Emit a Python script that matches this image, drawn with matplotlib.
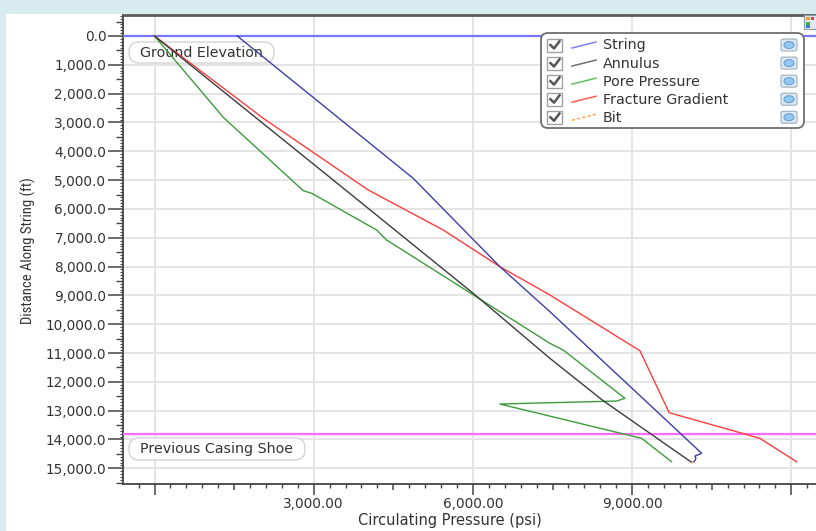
import numpy as np
import matplotlib
matplotlib.use("Agg")
import matplotlib.pyplot as plt
from matplotlib import font_manager
from matplotlib.patches import FancyBboxPatch, Rectangle, Ellipse
from matplotlib.lines import Line2D
from matplotlib.transforms import Affine2D
from matplotlib.ticker import FixedLocator, FuncFormatter, NullFormatter

# ---- data: circulating pressure (psi) against distance along string (ft) ----
string_psi = [1560, 4876, 6509, 7451, 9586, 10311, 10184, 10203, 10170, 10121]
string_ft = [0, 4940, 8005, 9566, 13232, 14480, 14574, 14654, 14772, 14793]

annulus_psi = [0, 3369, 6006, 7451, 8455, 10121]
annulus_ft = [0, 5000, 8930, 11184, 12655, 14793]

pore_psi = [0, 1296, 2803, 2962, 4186, 4374, 7451, 7702, 8864, 8708, 6509, 9179, 9744]
pore_ft = [0, 2822, 5367, 5458, 6732, 7079, 10664, 10896, 12572, 12666, 12770, 13960, 14772]

frac_psi = [0, 2050, 4028, 5441, 6509, 7451, 9147, 9699, 11408, 12099]
frac_ft = [0, 2856, 5344, 6732, 8005, 8987, 10920, 13071, 13960, 14772]

bit_psi = [10121]
bit_ft = [14793]

ground_elevation_ft = 0
casing_shoe_ft = 13810

x_ticks = [0, 3000, 6000, 9000, 12000]
x_labelled = [3000, 6000, 9000]
y_ticks = list(range(0, 15001, 1000))

legend_names = ["String", "Annulus", "Pore Pressure", "Fracture Gradient", "Bit"]

# ---- figure ----
W, H = 816, 531
fig = plt.figure(figsize=(W / 100, H / 100), dpi=100)
fig.patch.set_facecolor("white")
pix = Affine2D().scale(1, -1).translate(0, H)   # pixel coords, origin top-left

band = "#d7ebf1"
fig.add_artist(Rectangle((0, 0), W, 14, transform=pix, facecolor=band,
                         edgecolor="none", zorder=-5))
fig.add_artist(Rectangle((0, 0), 6, H, transform=pix, facecolor=band,
                         edgecolor="none", zorder=-5))

ax_l, ax_r, ax_t, ax_b = 123, 816, 15, 484
ax = fig.add_axes([ax_l / W, 1 - ax_b / H, (ax_r - ax_l) / W, (ax_b - ax_t) / H])

x0_px, px_per_3000 = 154.5, 159.2
y0_px, px_per_1000 = 36.0, 28.82
ax.set_xlim((ax_l - x0_px) / px_per_3000 * 3000, (ax_r - x0_px) / px_per_3000 * 3000)
ax.set_ylim((ax_b - y0_px) / px_per_1000 * 1000, (ax_t - y0_px) / px_per_1000 * 1000)

# reference lines
ax.axhline(ground_elevation_ft, color="#7676ff", lw=1.6, zorder=3)
ax.axhline(casing_shoe_ft, color="#ff6cff", lw=1.6, zorder=3)

# series
ax.plot(frac_psi, frac_ft, color="#ff3c3c", lw=1.0, zorder=4)
ax.plot(pore_psi, pore_ft, color="#3c9c3c", lw=1.0, zorder=4)
ax.plot(annulus_psi, annulus_ft, color="#3c3c3c", lw=1.0, zorder=4)
ax.plot(string_psi, string_ft, color="#3e3ea6", lw=1.0, zorder=4)
ax.plot(bit_psi, bit_ft, "o", color="#ffc080", ms=1.6, mew=0, zorder=5)

# grid, spines, ticks
ax.grid(True, which="major", color="#e4e4e4", lw=1.4)
ax.set_axisbelow(True)
for side in ("left", "bottom", "top"):
    ax.spines[side].set_color("#444444")
ax.spines["left"].set_linewidth(1.3)
ax.spines["bottom"].set_linewidth(1.3)
ax.spines["top"].set_linewidth(2.0)
ax.spines["top"].set_color("#5a5a5a")
ax.spines["right"].set_visible(False)

ax.xaxis.set_major_locator(FixedLocator(x_ticks))
ax.xaxis.set_major_formatter(FuncFormatter(
    lambda v, p: f"{v:,.2f}" if int(round(v)) in x_labelled else ""))
ax.xaxis.set_minor_locator(FixedLocator(
    [v for v in range(-600, 12501, 300) if v % 1500 != 0]))
ax.yaxis.set_major_locator(FixedLocator(y_ticks))
ax.yaxis.set_major_formatter(FuncFormatter(lambda v, p: f"{v:,.1f}"))
ax.yaxis.set_minor_locator(FixedLocator(
    [v for v in range(-700, 15501, 100) if v % 500 != 0]))

ax.tick_params(axis="x", which="major", length=7.6, width=1.1, pad=2,
               color="#444444", labelcolor="#333333", labelsize=9.8)
ax.tick_params(axis="x", which="minor", length=2.6, width=1.0, color="#444444")
ax.tick_params(axis="y", which="major", length=10.5, width=1.1, pad=1.5,
               color="#444444", labelcolor="#333333", labelsize=9.8)
ax.tick_params(axis="y", which="minor", length=2.4, width=0.8, color="#444444")
for lab in ax.get_xticklabels() + ax.get_yticklabels():
    lab.set_family("DejaVu Sans")

# mid-level ticks (every 1500 psi / 500 ft)
secx = ax.secondary_xaxis("bottom")
secx.xaxis.set_major_locator(FixedLocator([v for v in range(1500, 12001, 3000)]))
secx.xaxis.set_major_formatter(NullFormatter())
secx.tick_params(length=4.6, width=1.1, color="#444444")
secx.spines["bottom"].set_visible(False)

secy = ax.secondary_yaxis("left")
secy.yaxis.set_major_locator(FixedLocator([v for v in range(-500, 15501, 1000)]))
secy.yaxis.set_major_formatter(NullFormatter())
secy.tick_params(length=5.4, width=1.0, color="#444444")
secy.spines["left"].set_visible(False)

# axis titles
installed = {f.name for f in font_manager.fontManager.ttflist}
narrow = next((n for n in ["Liberation Sans Narrow", "Roboto Condensed",
                           "Open Sans Condensed"] if n in installed), "Liberation Sans")
fig.text(450 / W, 1 - 521 / H, "Circulating Pressure (psi)", ha="center",
         va="center", fontsize=10.5, family="DejaVu Sans", color="#333333")
fig.text(28 / W, 1 - 251 / H, "Distance Along String (ft)", rotation=90,
         ha="center", va="center", fontsize=10.5, family=narrow, color="#333333")

# marker labels
def tag(x0, y0, w, h, text):
    ax.add_artist(FancyBboxPatch((x0, y0), w, h,
                                 boxstyle="round,pad=0,rounding_size=10",
                                 transform=pix, facecolor="white",
                                 edgecolor="#d4d4d4", lw=1.0, zorder=2,
                                 clip_on=False))
    ax.text(x0 + w / 2, y0 + h / 2 + 0.5, text, transform=pix, ha="center",
            va="center", fontsize=10.3, family="DejaVu Sans", color="#333333",
            zorder=2.5, clip_on=False)

tag(129, 42, 145, 21, "Ground Elevation")
tag(129, 438, 176, 22, "Previous Casing Shoe")

# legend panel
fig.add_artist(FancyBboxPatch((541, 33), 263, 95,
                              boxstyle="round,pad=0,rounding_size=7",
                              transform=pix, facecolor="white",
                              edgecolor="#6e6e6e", lw=1.3, zorder=10))
legend_colors = ["#8080e6", "#6e6e6e", "#62c062", "#ff5a5a", "#ffa550"]
legend_styles = ["-", "-", "-", "-", (0, (2, 1.5))]
for i, (name, col, ls) in enumerate(zip(legend_names, legend_colors, legend_styles)):
    yc = 45 + 18.07 * i
    fig.add_artist(Rectangle((547, yc - 6.5), 15, 13, transform=pix,
                             facecolor="white", edgecolor="#a0a0a0", lw=1.0, zorder=11))
    fig.add_artist(Line2D([550.5, 554, 559.5], [yc, yc + 3.5, yc - 3.8],
                          transform=pix, color="#555555", lw=1.8, zorder=12))
    fig.add_artist(Line2D([572, 596], [yc + 3, yc - 3], transform=pix,
                          color=col, lw=1.1, ls=ls, zorder=12))
    fig.text(603, yc + 0.5, name, transform=pix, ha="left", va="center",
             fontsize=10.3, family="DejaVu Sans", color="#333333", zorder=12)
    fig.add_artist(FancyBboxPatch((781, yc - 6), 16, 12,
                                  boxstyle="round,pad=0,rounding_size=2",
                                  transform=pix, facecolor="#dfe7ef",
                                  edgecolor="#9fb0c0", lw=0.8, zorder=11))
    fig.add_artist(Ellipse((789, yc), 10, 7, transform=pix, facecolor="#93c8f2",
                           edgecolor="#5b9bd6", lw=0.7, zorder=12))

# chart-options button in the corner
fig.add_artist(Rectangle((804, 15), 14, 14, transform=pix, facecolor="#e4e8ee",
                         edgecolor="#8899aa", lw=0.8, zorder=11))
for (bx, by, bc) in [(806, 17, "#f0a030"), (810.5, 17, "#e04040"),
                     (806, 21.5, "#40b040"), (806, 25, "#3080e0")]:
    fig.add_artist(Rectangle((bx, by), 3.5, 3, transform=pix, facecolor=bc,
                             edgecolor="none", zorder=12))

fig.savefig("out.png", dpi=100, facecolor=fig.get_facecolor())
